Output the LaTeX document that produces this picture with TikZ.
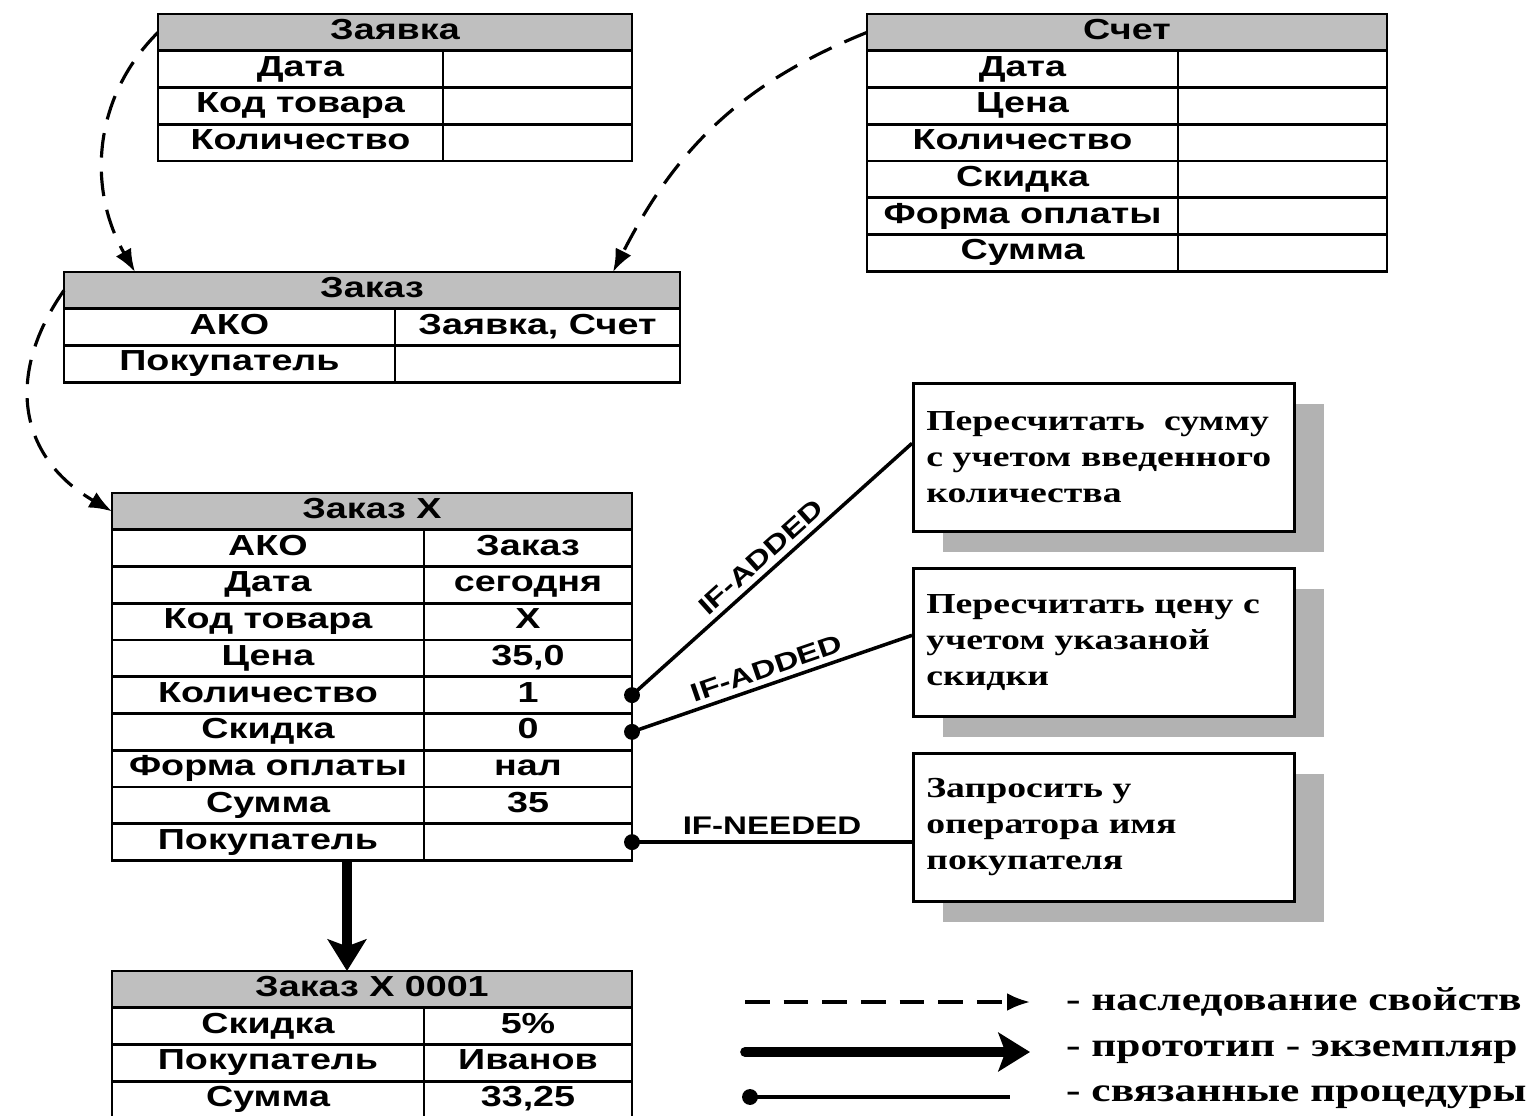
\documentclass[tikz,border=0pt]{standalone}
\usepackage{fontspec}
\setmainfont{Liberation Serif}[FakeStretch=1.3]
\newfontfamily\tabfont{Liberation Sans}[FakeStretch=1.3]
\usetikzlibrary{arrows.meta, positioning, shadows, calc}

\begin{document}
\begin{tikzpicture}[
    hdr/.style={rectangle, draw, line width=1.5pt, fill=black!25, outer sep=0pt, inner sep=1pt, minimum height=0.735cm, text height=11.5pt, text depth=3.5pt, font=\tabfont\bfseries\fontsize{16.5}{18}\selectfont},
    keycell/.style={rectangle, draw, line width=1.5pt, fill=white, outer sep=0pt, inner sep=1pt, minimum height=0.735cm, minimum width=#1, text height=11.5pt, text depth=3.5pt, font=\tabfont\bfseries\fontsize{16.5}{18}\selectfont},
    valcell/.style={keycell=#1},
    procbox/.style={rectangle, draw, line width=1.5pt, fill=white, anchor=north west, minimum height=2.96cm, text width=7.1cm, inner xsep=0.26cm, align=left, font=\bfseries\fontsize{16.5}{20.5}\selectfont, general shadow={fill=black!30, shadow xshift=0.6cm, shadow yshift=-0.42cm}},
    inherit/.style={line width=1.8pt, dash pattern=on 14pt off 8pt, -{Latex[length=13pt, width=10pt]}},
    proto/.style={line width=5.5pt, -{Stealth[length=18pt, width=22pt, inset=4pt]}},
    procline/.style={line width=2pt, {Circle[length=9pt]}-, shorten <=-4.5pt},
    lbl/.style={font=\tabfont\bfseries\fontsize{14.5}{16}\selectfont},
    legtext/.style={anchor=west, font=\bfseries\fontsize{19}{20}\selectfont}
  ]
    \useasboundingbox (0,0) rectangle (30.6,-22.32);

    % Заявка
    \node[hdr, minimum width=9.48cm, anchor=north west] (zayhdr) at (3.16,-0.28) {Заявка};
    \node[keycell=5.7cm, below=0pt of zayhdr.south west, anchor=north west] (zay1) {Дата};
    \node[keycell=5.7cm, below=0pt of zay1] (zay2) {Код товара};
    \node[keycell=5.7cm, below=0pt of zay2] (zay3) {Количество};
    \node[valcell=3.78cm, right=0pt of zay1] (zay1v) {};
    \node[valcell=3.78cm, right=0pt of zay2] (zay2v) {};
    \node[valcell=3.78cm, right=0pt of zay3] (zay3v) {};

    % Счет
    \node[hdr, minimum width=10.4cm, anchor=north west] (schhdr) at (17.34,-0.28) {Счет};
    \node[keycell=6.22cm, below=0pt of schhdr.south west, anchor=north west] (sch1) {Дата};
    \node[keycell=6.22cm, below=0pt of sch1] (sch2) {Цена};
    \node[keycell=6.22cm, below=0pt of sch2] (sch3) {Количество};
    \node[keycell=6.22cm, below=0pt of sch3] (sch4) {Скидка};
    \node[keycell=6.22cm, below=0pt of sch4] (sch5) {Форма оплаты};
    \node[keycell=6.22cm, below=0pt of sch5] (sch6) {Сумма};
    \node[valcell=4.18cm, right=0pt of sch1] (sch1v) {};
    \node[valcell=4.18cm, right=0pt of sch2] (sch2v) {};
    \node[valcell=4.18cm, right=0pt of sch3] (sch3v) {};
    \node[valcell=4.18cm, right=0pt of sch4] (sch4v) {};
    \node[valcell=4.18cm, right=0pt of sch5] (sch5v) {};
    \node[valcell=4.18cm, right=0pt of sch6] (sch6v) {};

    % Заказ
    \node[hdr, minimum width=12.32cm, anchor=north west] (zakhdr) at (1.28,-5.44) {Заказ};
    \node[keycell=6.62cm, below=0pt of zakhdr.south west, anchor=north west] (zak1) {АКО};
    \node[keycell=6.62cm, below=0pt of zak1] (zak2) {Покупатель};
    \node[valcell=5.7cm, right=0pt of zak1] (zak1v) {Заявка, Счет};
    \node[valcell=5.7cm, right=0pt of zak2] (zak2v) {};

    % Заказ X
    \node[hdr, minimum width=10.4cm, anchor=north west] (zxhdr) at (2.24,-9.86) {Заказ X};
    \node[keycell=6.24cm, below=0pt of zxhdr.south west, anchor=north west] (zx1) {АКО};
    \node[keycell=6.24cm, below=0pt of zx1] (zx2) {Дата};
    \node[keycell=6.24cm, below=0pt of zx2] (zx3) {Код товара};
    \node[keycell=6.24cm, below=0pt of zx3] (zx4) {Цена};
    \node[keycell=6.24cm, below=0pt of zx4] (zx5) {Количество};
    \node[keycell=6.24cm, below=0pt of zx5] (zx6) {Скидка};
    \node[keycell=6.24cm, below=0pt of zx6] (zx7) {Форма оплаты};
    \node[keycell=6.24cm, below=0pt of zx7] (zx8) {Сумма};
    \node[keycell=6.24cm, below=0pt of zx8] (zx9) {Покупатель};
    \node[valcell=4.16cm, right=0pt of zx1] (zx1v) {Заказ};
    \node[valcell=4.16cm, right=0pt of zx2] (zx2v) {сегодня};
    \node[valcell=4.16cm, right=0pt of zx3] (zx3v) {X};
    \node[valcell=4.16cm, right=0pt of zx4] (zx4v) {35,0};
    \node[valcell=4.16cm, right=0pt of zx5] (zx5v) {1};
    \node[valcell=4.16cm, right=0pt of zx6] (zx6v) {0};
    \node[valcell=4.16cm, right=0pt of zx7] (zx7v) {нал};
    \node[valcell=4.16cm, right=0pt of zx8] (zx8v) {35};
    \node[valcell=4.16cm, right=0pt of zx9] (zx9v) {};

    % Заказ X 0001
    \node[hdr, minimum width=10.4cm, anchor=north west] (x1hdr) at (2.24,-19.42) {Заказ X 0001};
    \node[keycell=6.24cm, below=0pt of x1hdr.south west, anchor=north west] (x11) {Скидка};
    \node[keycell=6.24cm, below=0pt of x11] (x12) {Покупатель};
    \node[keycell=6.24cm, below=0pt of x12] (x13) {Сумма};
    \node[valcell=4.16cm, right=0pt of x11] (x11v) {5\%};
    \node[valcell=4.16cm, right=0pt of x12] (x12v) {Иванов};
    \node[valcell=4.16cm, right=0pt of x13] (x13v) {33,25};

    % Procedures
    \node[procbox] (recalcsum) at (18.24,-7.64) {Пересчитать~~сумму\\с учетом введенного\\количества};
    \node[procbox] (recalcprice) at (18.24,-11.34) {Пересчитать цену с\\учетом указаной\\скидки};
    \node[procbox] (askbuyer) at (18.24,-15.04) {Запросить у\\оператора имя\\покупателя};

    % Inheritance
    \draw[inherit] (zayhdr.west) to[out=225, in=120] ([xshift=1.42cm]zakhdr.north west);
    \draw[inherit] (schhdr.west) to[out=202, in=63] ([xshift=-1.34cm]zakhdr.north east);
    \draw[inherit] (zakhdr.west) to[out=235, in=150, looseness=1.2] (zxhdr.west);

    % Prototype - instance
    \draw[proto] ([xshift=-0.5cm]x1hdr.north |- zx9.south) -- ([xshift=-0.5cm]x1hdr.north);

    % Attached procedures
    \draw[procline] (zx5v.east) -- node[lbl, midway, above, sloped] {IF-ADDED} ([yshift=0.28cm]recalcsum.west);
    \draw[procline] (zx6v.east) -- node[lbl, midway, above, sloped] {IF-ADDED} ([yshift=0.14cm]recalcprice.west);
    \draw[procline] (zx9v.east) -- node[lbl, midway, above] {IF-NEEDED} (zx9v.east -| askbuyer.west);

    % Legend
    \node[legtext] (leg1) at (21.2,-20.04) {- наследование свойств};
    \node[legtext] (leg2) at (21.2,-21.04) {- прототип - экземпляр};
    \node[legtext] (leg3) at (21.2,-21.94) {- связанные процедуры};
    \coordinate (l1) at (14.9,-20.04);
    \coordinate (l2) at (14.9,-21.04);
    \coordinate (l3) at (15.0,-21.94);
    \draw[inherit] (l1) -- ([xshift=-0.6cm]leg1.west);
    \draw[proto, line cap=round] (l2) -- ([xshift=-0.6cm]leg2.west);
    \draw[procline] (l3) -- ([xshift=-1.0cm]leg3.west);
  \end{tikzpicture}
\end{document}
